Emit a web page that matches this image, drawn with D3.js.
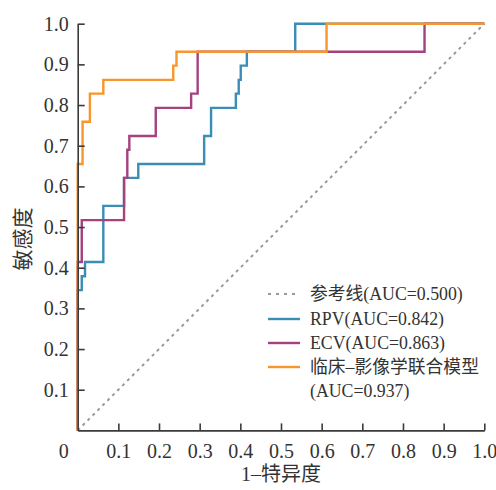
<!DOCTYPE html>
<html>
<head>
<meta charset="utf-8">
<script src="https://cdn.jsdelivr.net/npm/d3@7"></script>
<style>
  body { margin: 0; background: #fff; }
</style>
</head>
<body>
<div class="center"></div>
<script>

// ROC corner points (1-specificity, sensitivity)
var refFpr = [0, 1];
var refTpr = [0, 1];

var rpvFpr = [0, 0, 0.010, 0.010, 0.018, 0.018, 0.063, 0.063, 0.114, 0.114, 0.149, 0.149, 0.311, 0.311, 0.328, 0.328, 0.389, 0.389, 0.396, 0.396, 0.401, 0.401, 0.416, 0.416, 0.535, 0.535, 1];
var rpvTpr = [0, 0.345, 0.345, 0.379, 0.379, 0.414, 0.414, 0.552, 0.552, 0.621, 0.621, 0.655, 0.655, 0.724, 0.724, 0.793, 0.793, 0.828, 0.828, 0.862, 0.862, 0.897, 0.897, 0.931, 0.931, 1, 1];

var ecvFpr = [0, 0, 0.010, 0.010, 0.114, 0.114, 0.122, 0.122, 0.127, 0.127, 0.192, 0.192, 0.279, 0.279, 0.295, 0.295, 0.853, 0.853, 1];
var ecvTpr = [0, 0.414, 0.414, 0.517, 0.517, 0.621, 0.621, 0.690, 0.690, 0.724, 0.724, 0.793, 0.793, 0.828, 0.828, 0.931, 0.931, 1, 1];

var combFpr = [0, 0, 0.012, 0.012, 0.030, 0.030, 0.063, 0.063, 0.235, 0.235, 0.243, 0.243, 0.612, 0.612, 1];
var combTpr = [0, 0.655, 0.655, 0.759, 0.759, 0.828, 0.828, 0.862, 0.862, 0.897, 0.897, 0.931, 0.931, 1, 1];

var legendLabels = ["参考线(AUC=0.500)", "RPV(AUC=0.842)", "ECV(AUC=0.863)", "临床–影像学联合模型"];
var legendExtra = "(AUC=0.937)";
var tickValues = [0.1, 0.2, 0.3, 0.4, 0.5, 0.6, 0.7, 0.8, 0.9, 1.0];

roc_chart(d3.select('.center'));

function roc_chart(holder){

  var width = 496,
      height = 490;

  var serif = "'Liberation Serif', 'Times New Roman', serif";
  var cjk = "'Liberation Serif', 'Noto Sans CJK SC', sans-serif";

  var svg = holder.append("svg")
      .attr("width", width)
      .attr("height", height);

  var x = d3.scaleLinear().domain([0, 1]).range([77.7, 484.3]);
  var y = d3.scaleLinear().domain([0, 1]).range([430.4, 23.7]);

  var colors = ["#9a9a9a", "#3a8db5", "#a5417f", "#f7962a"];

  var series = [
    {fpr: refFpr, tpr: refTpr, dash: "3,4", w: 2},
    {fpr: rpvFpr, tpr: rpvTpr, dash: null, w: 2.4},
    {fpr: ecvFpr, tpr: ecvTpr, dash: null, w: 2.4},
    {fpr: combFpr, tpr: combTpr, dash: null, w: 2.4}
  ];

  var line = d3.line()
      .x(function(d) { return x(d[0]); })
      .y(function(d) { return y(d[1]); });

  // curves
  series.forEach(function(s, i) {
    svg.append("path")
        .datum(d3.zip(s.fpr, s.tpr))
        .attr("d", line)
        .attr("fill", "none")
        .attr("stroke", colors[i])
        .attr("stroke-width", s.w)
        .attr("stroke-dasharray", s.dash)
        .attr("stroke-linejoin", "miter");
  });

  // axes
  var xAxis = d3.axisBottom(x)
      .tickValues(tickValues)
      .tickFormat(d3.format(".1f"))
      .tickSizeInner(-7)
      .tickSizeOuter(0)
      .tickPadding(13);

  var yAxis = d3.axisLeft(y)
      .tickValues(tickValues)
      .tickFormat(d3.format(".1f"))
      .tickSizeInner(-7)
      .tickSizeOuter(0)
      .tickPadding(9);

  var gx = svg.append("g")
      .attr("transform", "translate(0," + y(0) + ")")
      .call(xAxis);

  var gy = svg.append("g")
      .attr("transform", "translate(" + x(0) + ",0)")
      .call(yAxis);

  [gx, gy].forEach(function(g) {
    g.select(".domain").attr("stroke", "#3a3a3a").attr("stroke-width", 1.6);
    g.selectAll(".tick line").attr("stroke", "#3a3a3a").attr("stroke-width", 1.6);
    g.selectAll(".tick text")
        .attr("font-family", serif)
        .attr("font-size", "20px")
        .attr("fill", "#333");
  });

  // shared origin label
  svg.append("text")
      .text("0")
      .attr("x", x(0) - 14)
      .attr("y", y(0) + 28)
      .attr("text-anchor", "middle")
      .attr("font-family", serif)
      .attr("font-size", "20px")
      .attr("fill", "#333");

  // axis titles
  svg.append("text")
      .text("1–特异度")
      .attr("x", (x(0) + x(1)) / 2)
      .attr("y", 481)
      .attr("text-anchor", "middle")
      .attr("font-family", cjk)
      .attr("font-size", "20px")
      .attr("fill", "#333");

  svg.append("text")
      .text("敏感度")
      .attr("transform", "translate(30," + (y(0.5) + 12) + ") rotate(-90)")
      .attr("text-anchor", "middle")
      .attr("font-family", cjk)
      .attr("font-size", "21px")
      .attr("fill", "#333");

  // legend
  var legY = [294, 319, 343, 367];
  var leg = svg.selectAll(".leg")
      .data(legendLabels)
      .enter().append("g")
      .attr("class", "leg");

  leg.append("line")
      .attr("x1", 268)
      .attr("x2", 300)
      .attr("y1", function(d, n) { return legY[n]; })
      .attr("y2", function(d, n) { return legY[n]; })
      .attr("stroke", function(d, n) { return colors[n]; })
      .attr("stroke-width", function(d, n) { return series[n].w; })
      .attr("stroke-dasharray", function(d, n) { return n === 0 ? "3,5" : null; });

  leg.append("text")
      .text(function(d) { return d; })
      .attr("x", 310)
      .attr("y", function(d, n) { return legY[n] + 6; })
      .attr("font-family", cjk)
      .attr("font-size", "17.8px")
      .attr("fill", "#333");

  svg.append("text")
      .text(legendExtra)
      .attr("x", 310)
      .attr("y", 391 + 6)
      .attr("font-family", cjk)
      .attr("font-size", "17.8px")
      .attr("fill", "#333");
}

</script>
</body>
</html>
